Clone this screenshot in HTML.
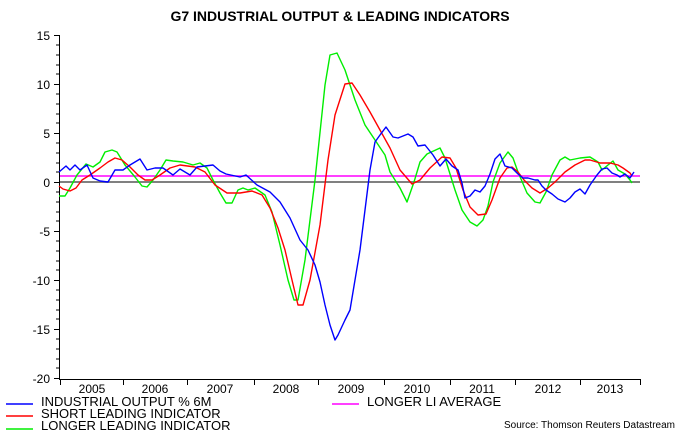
<!DOCTYPE html>
<html><head><style>body{margin:0;background:#fff}</style></head><body>
<svg width="677" height="431" xmlns="http://www.w3.org/2000/svg" font-family="Liberation Sans, sans-serif">
<rect width="677" height="431" fill="#fff"/>
<text x="340" y="21" font-size="14" font-weight="bold" text-anchor="middle">G7 INDUSTRIAL OUTPUT &amp; LEADING INDICATORS</text>
<g stroke="#000" stroke-width="1">
<line x1="59.5" y1="35" x2="59.5" y2="379"/>
<line x1="59" y1="379.5" x2="640" y2="379.5"/>
<path d="M54 35.5h5M54 84.5h5M54 133.5h5M54 182.5h5M54 231.5h5M54 280.5h5M54 329.5h5M54 378.5h5"/>
<path d="M56 45h3M56 55h3M56 65h3M56 74h3M56 94h3M56 104h3M56 114h3M56 123h3M56 143h3M56 153h3M56 163h3M56 172h3M56 192h3M56 202h3M56 212h3M56 221h3M56 241h3M56 251h3M56 261h3M56 270h3M56 290h3M56 300h3M56 310h3M56 319h3M56 339h3M56 349h3M56 359h3M56 368h3"/>
<path d="M60.5 379v6M123.5 379v6M187.5 379v6M254.5 379v6M318.5 379v6M384.5 379v6M450.5 379v6M515.5 379v6M580.5 379v6M640.5 379v6"/>
</g>
<g font-size="12" text-anchor="end">
<text x="50" y="40">15</text><text x="50" y="89">10</text><text x="50" y="138">5</text><text x="50" y="187">0</text>
<text x="50" y="236">-5</text><text x="50" y="285">-10</text><text x="50" y="334">-15</text><text x="50" y="383">-20</text>
</g>
<g font-size="12" text-anchor="middle">
<text x="92" y="393">2005</text><text x="155" y="393">2006</text><text x="220" y="393">2007</text><text x="286" y="393">2008</text><text x="351" y="393">2009</text><text x="417" y="393">2010</text><text x="482" y="393">2011</text><text x="548" y="393">2012</text><text x="610" y="393">2013</text>
</g>
<line x1="60" y1="182" x2="640" y2="182" stroke="#808080" stroke-width="2"/>
<line x1="60" y1="176" x2="640" y2="176" stroke="#ff00ff" stroke-width="1.5"/>
<g fill="none" stroke-width="1.4" stroke-linejoin="round">
<polyline stroke="#00ee00" points="59,196 65,196 70,188 77,175 86,164 93,167 100,162 105,152 112,150 117,152 125,165 135,177 142,186 147,187 153,180 160,170 166,160 173,161 183,162 193,165 200,163 207,168 213,180 220,193 226,203 232,203 238,190 243,188 248,190 255,188 265,195 272,212 280,245 288,280 294,300 298,300 305,260 315,180 325,85 330,55 337,53 345,70 355,100 365,125 375,140 385,155 390,172 400,188 407,202 414,182 420,162 427,154 440,148 445,158 455,190 462,210 470,222 477,226 483,220 488,206 493,182 500,163 508,152 513,158 518,172 527,193 535,202 540,203 546,192 552,175 560,160 565,157 570,160 580,158 590,157 598,162 602,170 608,165 613,161 618,170 625,174 630,180 632,183"/>
<polyline stroke="#ff0000" points="59,186 63,189 70,191 76,188 82,180 90,175 100,168 108,162 115,158 122,160 130,167 138,175 145,180 152,180 160,175 170,168 180,165 195,167 205,172 215,185 227,193 240,193 252,191 262,195 270,208 278,228 285,250 292,280 298,305 303,305 310,280 320,225 328,160 335,115 345,84 352,83 360,95 370,112 380,130 390,148 400,170 412,184 420,180 430,168 442,157 450,158 456,168 463,190 470,207 478,215 486,214 492,200 500,178 507,168 512,167 518,172 524,180 532,188 540,193 548,188 555,182 565,172 575,165 585,160 590,160 600,163 610,163 618,165 623,168 630,173 632,176"/>
<polyline stroke="#0000ff" points="59,172 66,166 70,170 75,165 80,170 87,165 93,178 100,181 108,182 115,170 123,170 130,165 140,159 147,170 155,168 163,168 173,175 180,169 190,175 197,167 213,165 220,171 226,174 240,177 246,175 257,185 270,192 280,202 290,218 300,240 308,250 315,265 320,282 325,305 330,325 335,340 338,335 345,320 350,310 360,250 365,210 370,170 375,142 380,135 386,127 393,137 398,138 408,134 413,137 418,146 425,145 433,155 440,166 446,159 452,166 458,170 462,183 465,198 470,196 475,190 480,192 485,186 490,174 495,159 500,154 505,166 512,168 518,174 523,178 528,178 535,180 538,180 542,186 546,190 552,194 558,199 565,202 570,198 575,192 580,189 585,194 590,185 597,175 602,169 607,168 612,173 617,175 620,177 625,174 630,178 632,175 634,172"/>
</g>
<g stroke-width="1.5">
<line x1="6" y1="404" x2="33" y2="404" stroke="#0000ff"/>
<line x1="6" y1="416" x2="33" y2="416" stroke="#ff0000"/>
<line x1="6" y1="429" x2="33" y2="429" stroke="#00ee00"/>
<line x1="332" y1="404" x2="359" y2="404" stroke="#ff00ff"/>
</g>
<g font-size="13">
<text x="41" y="406">INDUSTRIAL OUTPUT % 6M</text>
<text x="41" y="418">SHORT LEADING INDICATOR</text>
<text x="41" y="430">LONGER LEADING INDICATOR</text>
<text x="367" y="406">LONGER LI AVERAGE</text>
</g>
<text x="675" y="428" font-size="10" text-anchor="end">Source: Thomson Reuters Datastream</text>
</svg>
</body></html>
